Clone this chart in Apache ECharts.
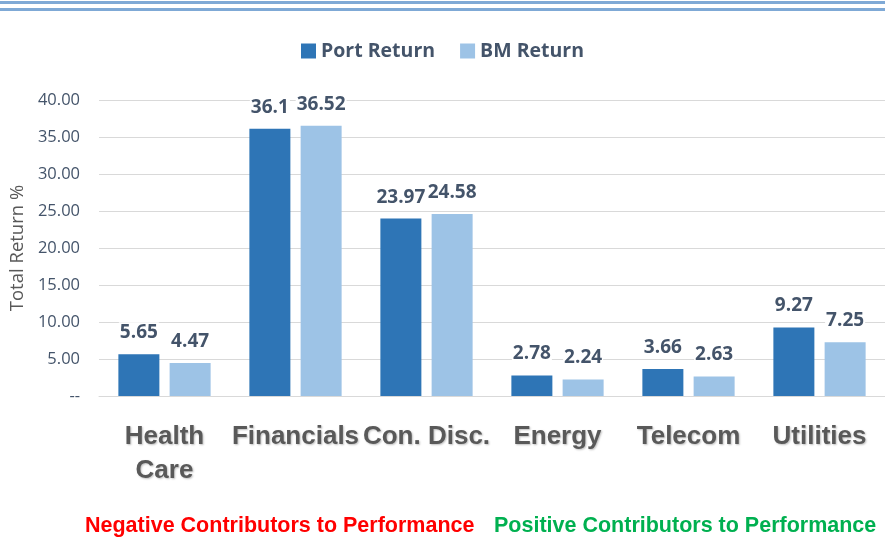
<!DOCTYPE html>
<html>
<head>
<meta charset="utf-8">
<script src="https://cdn.jsdelivr.net/npm/echarts@6/dist/echarts.min.js"></script>
<style>
  html, body { margin: 0; padding: 0; background: #fff; }
  #main { width: 885px; height: 540px; }
</style>
</head>
<body>
<div id="main"></div>
<script>
// sectors and returns
var categories = ['Health\nCare', 'Financials', 'Con. Disc.', 'Energy', 'Telecom', 'Utilities'];
var portReturn = [5.65, 36.1, 23.97, 2.78, 3.66, 9.27];
var bmReturn = [4.47, 36.52, 24.58, 2.24, 2.63, 7.25];
var seriesNames = ['Port Return', 'BM Return'];

var labelStyle = {
    show: true,
    position: 'top',
    distance: 11,
    color: '#44546A',
    fontFamily: 'Open Sans',
    fontWeight: 'bold',
    fontSize: 19,
    backgroundColor: '#fff',
    padding: [1, 1]
};

var myChart = echarts.init(document.getElementById('main'));
var option = {
    animation: false,
    color: ['#2E75B6', '#9DC3E6'],
    legend: {
        data: seriesNames,
        top: 36,
        left: 'center',
        itemWidth: 15,
        itemHeight: 15,
        itemGap: 25,
        icon: 'rect',
        textStyle: {
            color: '#44546A',
            fontFamily: 'Open Sans',
            fontWeight: 'bold',
            fontSize: 19.5
        }
    },
    grid: {
        left: 99,
        right: -12,
        top: 100,
        bottom: 144
    },
    xAxis: {
        type: 'category',
        data: categories,
        axisLine: { show: true, lineStyle: { color: '#D9D9D9' } },
        axisTick: { show: false },
        axisLabel: {
            interval: 0,
            margin: 24,
            color: '#595959',
            fontFamily: 'Liberation Sans',
            fontWeight: 'bold',
            fontSize: 26,
            lineHeight: 34,
            textShadowColor: 'rgba(0,0,0,0.25)',
            textShadowBlur: 2,
            textShadowOffsetX: 1,
            textShadowOffsetY: 1
        }
    },
    yAxis: {
        type: 'value',
        min: 0,
        max: 40,
        interval: 5,
        name: 'Total Return %',
        nameLocation: 'middle',
        nameGap: 72,
        nameTextStyle: { color: '#595959', fontFamily: 'Open Sans', fontSize: 18.5 },
        axisLine: { show: false },
        axisTick: { show: false },
        axisLabel: {
            margin: 19,
            color: '#44546A',
            fontFamily: 'Open Sans',
            fontSize: 16.5,
            formatter: function (v) { return v === 0 ? '--' : v.toFixed(2); }
        },
        splitLine: { lineStyle: { color: '#D9D9D9', width: 1 } }
    },
    series: [
        {
            name: seriesNames[0],
            type: 'bar',
            barWidth: 41,
            barGap: '25%',
            data: portReturn,
            label: labelStyle
        },
        {
            name: seriesNames[1],
            type: 'bar',
            barWidth: 41,
            barGap: '25%',
            data: bmReturn,
            label: labelStyle
        }
    ],
    graphic: [
        { type: 'rect', shape: { x: 0, y: 1, width: 885, height: 3 }, style: { fill: '#7FA9D6' } },
        { type: 'rect', shape: { x: 0, y: 8, width: 885, height: 3 }, style: { fill: '#7FA9D6' } },
        {
            type: 'text', left: 85, top: 515,
            style: { text: 'Negative Contributors to Performance', fill: '#FF0000', font: 'bold 21.5px "Liberation Sans"' }
        },
        {
            type: 'text', left: 494, top: 515,
            style: { text: 'Positive Contributors to Performance', fill: '#00B050', font: 'bold 21.5px "Liberation Sans"' }
        }
    ]
};
myChart.setOption(option);
</script>
</body>
</html>
